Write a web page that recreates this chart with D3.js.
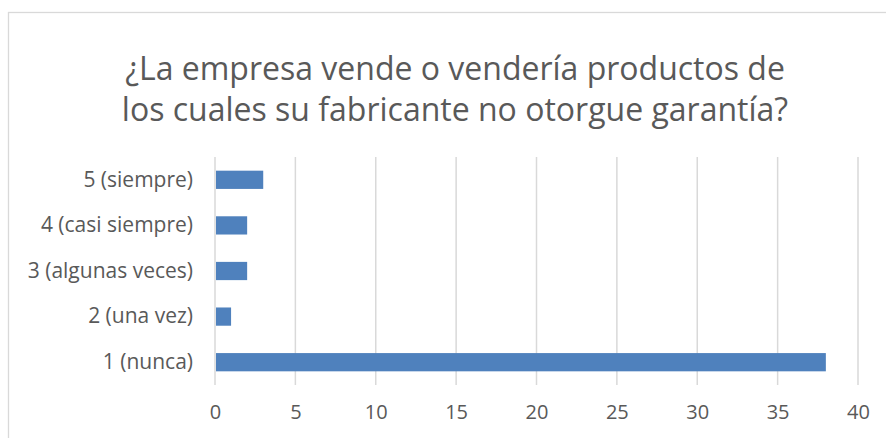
<!DOCTYPE html>
<html>
<head>
<meta charset="utf-8">
<script src="https://cdn.jsdelivr.net/npm/d3@7"></script>
<style>
  body { margin: 0; background: #fff; }
  svg text { font-family: "Open Sans", "Liberation Sans", sans-serif; fill: #595959; }
</style>
</head>
<body>
<div class="chart"></div>
<script>
// data
var categories = ["5 (siempre)", "4 (casi siempre)", "3 (algunas veces)", "2 (una vez)", "1 (nunca)"]
var values = [3, 2, 2, 1, 38]
var xTicks = [0, 5, 10, 15, 20, 25, 30, 35, 40]
var titleLines = ["¿La empresa vende o vendería productos de", "los cuales su fabricante no otorgue garantía?"]

var width = 886, height = 438
var svg = d3.select(".chart").append("svg")
    .attr("width", width)
    .attr("height", height)

// chart frame
svg.append("rect")
    .attr("x", 8.5).attr("y", 12.5)
    .attr("width", 890).attr("height", 440)
    .attr("fill", "#fff")
    .attr("stroke", "#d9d9d9")
    .attr("stroke-width", 1.3)

// title
svg.append("g").selectAll("text")
    .data(titleLines)
    .enter().append("text")
    .attr("x", 455)
    .attr("y", function(d, i) { return 80 + i * 41; })
    .attr("text-anchor", "middle")
    .style("font-size", "32px")
    .text(function(d) { return d; })

var plot = { left: 215, right: 858, top: 157, bottom: 385 }

var x = d3.scaleLinear().domain([0, 40]).range([plot.left, plot.right])
var y = d3.scaleBand().domain(categories).range([plot.top, plot.bottom]).paddingInner(0.6).paddingOuter(0.3)

// gridlines
svg.append("g").selectAll("line")
    .data(xTicks)
    .enter().append("line")
    .attr("x1", function(d) { return x(d); })
    .attr("x2", function(d) { return x(d); })
    .attr("y1", plot.top)
    .attr("y2", plot.bottom)
    .attr("stroke", "#d9d9d9")
    .attr("stroke-width", 1.5)

// bars
svg.append("g").selectAll("rect")
    .data(categories)
    .enter().append("rect")
    .attr("x", x(0) + 1)
    .attr("y", function(d) { return y(d); })
    .attr("width", function(d, i) { return x(values[i]) - x(0) - 1; })
    .attr("height", y.bandwidth())
    .attr("fill", "#4f81bd")

// x axis labels
var xAxis = d3.axisBottom(x).tickValues(xTicks).tickSize(0).tickPadding(20)
var gx = svg.append("g").attr("transform", "translate(0," + plot.bottom + ")").call(xAxis)
gx.select(".domain").remove()
gx.selectAll("text").style("font-size", "20px")

// y axis labels
var yAxis = d3.axisLeft(y).tickSize(0).tickPadding(22)
var gy = svg.append("g").attr("transform", "translate(" + plot.left + ",0)").call(yAxis)
gy.select(".domain").remove()
gy.selectAll("text").style("font-size", "21px")
</script>
</body>
</html>
